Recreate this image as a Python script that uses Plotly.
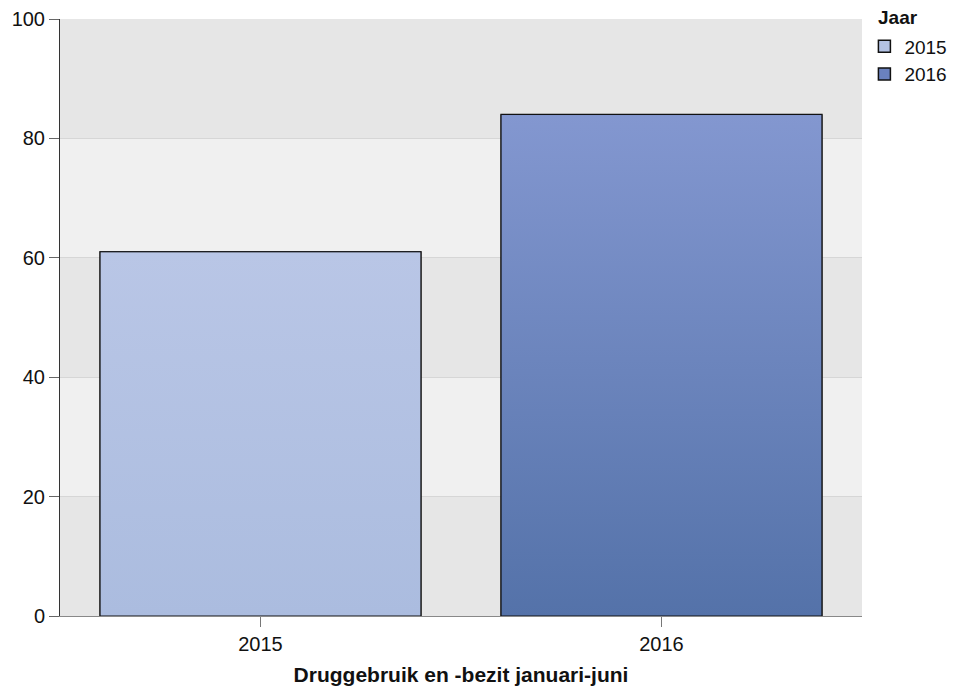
import plotly.graph_objects as go

categories = ["2015", "2016"]
values = [61, 84]
top_colors = ["#b9c6e6", "#8397d0"]
bottom_colors = ["#abbcdf", "#5472a9"]
legend_colors = ["#b3c2e4", "#6a81be"]
y_ticks = [0, 20, 40, 60, 80, 100]

bar_width = 0.8

fig = go.Figure()
for i, (cat, v) in enumerate(zip(categories, values)):
    fig.add_trace(go.Bar(
        x=[i], y=[v], width=bar_width, name=cat, legendgroup=cat,
        marker=dict(color=legend_colors[i], line=dict(color="#111111", width=1.5)),
        hoverinfo="name+y",
    ))
for i, (cat, v) in enumerate(zip(categories, values)):
    h = bar_width / 2
    xs = [i - h, i - h, i + h, i + h, i - h]
    ys = [0, v, v, 0, 0]
    fig.add_trace(go.Scatter(
        x=xs, y=ys, name=cat, mode="lines", fill="toself", showlegend=False,
        legendgroup=cat,
        line=dict(color="#111111", width=1),
        fillgradient=dict(type="vertical",
                          colorscale=[[0, bottom_colors[i]], [1, top_colors[i]]]),
        hoverinfo="skip",
    ))

shapes = []
for k in range(len(y_ticks) - 1):
    shapes.append(dict(type="rect", xref="paper", yref="y", x0=0, x1=1,
                       y0=y_ticks[k], y1=y_ticks[k + 1],
                       fillcolor="#e6e6e6" if k % 2 == 0 else "#f0f0f0",
                       line=dict(width=0), layer="below"))

fig.update_layout(
    width=953, height=678,
    margin=dict(l=52, r=99, t=11, b=70, autoexpand=False),
    paper_bgcolor="white", plot_bgcolor="#e6e6e6",
    font=dict(family="Liberation Sans, Arial, sans-serif", size=20, color="#111111"),
    shapes=shapes,
    showlegend=True,
    annotations=[dict(text="<b>Jaar</b>", xref="paper", yref="paper",
                      x=1.018, y=1.0017, xanchor="left", yanchor="middle",
                      showarrow=False, font=dict(size=19))],
    legend=dict(x=1.003, y=0.986, xanchor="left", yanchor="top",
                font=dict(size=19), tracegroupgap=5, traceorder="normal",
                bgcolor="rgba(0,0,0,0)"),
    xaxis=dict(range=[-0.5, 1.5], tickmode="array",
               tickvals=list(range(len(categories))), ticktext=categories,
               showgrid=False, zeroline=False, showline=True, linecolor="#888888",
               ticks="outside", ticklen=10, tickcolor="#777777",
               title=dict(text="<b>Druggebruik en -bezit januari-juni</b>",
                          font=dict(size=21), standoff=14),
               fixedrange=True),
    yaxis=dict(range=[0, 100], tickvals=y_ticks, showgrid=True, gridcolor="#d6d6d6",
               zeroline=False, showline=True, linecolor="#333333", linewidth=1,
               ticks="outside", ticklen=10, tickcolor="#666666"),
)

fig.write_html("out.html")
